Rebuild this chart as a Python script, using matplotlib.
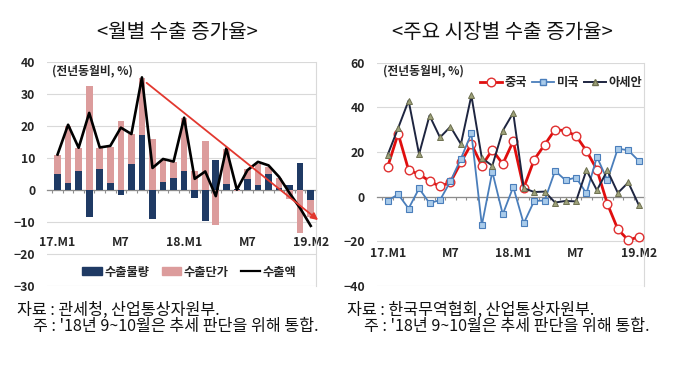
import numpy as np
import matplotlib
matplotlib.use('Agg')
import matplotlib.pyplot as plt
from matplotlib.patches import Patch
from matplotlib.lines import Line2D

plt.rcParams['font.family'] = ['Noto Sans CJK KR', 'DejaVu Sans']

# ---------------- data ----------------
periods = list(range(25))
xtick_pos = [0, 6, 12, 18, 24]
xtick_labels = ['17.M1', 'M7', '18.M1', 'M7', '19.M2']

volume = [5.0, 2.1, 5.7, -8.6, 6.5, 2.1, -1.7, 7.9, 17.1, -9.0, 2.3, 3.8, 5.9,
          -2.5, -9.8, 9.3, 1.7, 0.3, 3.2, 1.5, 4.9, 0.5, 1.6, 8.4, -3.2]
price = [5.9, 17.9, 7.4, 32.3, 6.6, 11.3, 21.5, 9.4, 17.9, 15.8, 7.0, 4.9, 16.6,
         5.8, 15.1, -11.0, 11.1, -0.3, 3.2, 6.6, 2.3, 3.3, -3.0, -13.4, -5.2]
amount = [11.0, 20.3, 13.1, 24.0, 13.2, 13.7, 19.4, 17.4, 35.1, 6.8, 9.6, 8.8, 22.5,
          3.4, 5.7, -2.0, 12.9, 0.0, 6.1, 8.7, 7.6, 4.0, -1.1, -5.8, -11.3]
trend_start = [8.44, 33.4]
trend_end = [24.7, -9.5]

china = [13.3, 28.2, 11.8, 10.0, 6.9, 4.5, 6.4, 15.3, 23.6, 13.8, 20.9, 14.6, 24.8,
         3.8, 16.5, 23.2, 30.0, 29.5, 27.2, 20.5, 12.0, -3.3, -14.7, -19.6, -18.1]
us = [-1.9, 1.0, -5.4, 3.6, -3.0, -1.6, 6.8, 17.0, 28.3, -12.9, 11.1, -8.0, 4.3,
      -12.1, -2.0, -1.8, 11.5, 7.3, 8.5, 1.4, 17.8, 7.3, 21.5, 20.7, 16.0]
asean = [18.7, 30.7, 43.0, 19.0, 36.3, 26.5, 31.3, 23.5, 45.3, 17.2, 13.8, 29.5, 37.5,
         3.8, 2.0, 2.2, -2.7, -2.0, -2.2, 11.8, 2.8, 11.7, 1.6, 6.3, -3.8]

left_title = '<월별 수출 증가율>'
right_title = '<주요 시장별 수출 증가율>'
unit_label = '(전년동월비, %)'
left_legend = ['수출물량', '수출단가', '수출액']
right_legend = ['중국', '미국', '아세안']
left_notes = ['자료 : 관세청, 산업통상자원부.', "주 : '18년 9~10월은 추세 판단을 위해 통합."]
right_notes = ['자료 : 한국무역협회, 산업통상자원부.', "주 : '18년 9~10월은 추세 판단을 위해 통합."]

# ---------------- styling ----------------
NAVY = '#1F3A64'
PINK = '#DC9C9C'
GRID = '#D9D9D9'
ZERO = '#8C8C8C'
TXT = '#262626'

W, H = 680, 371
fig = plt.figure(figsize=(W / 100, H / 100), dpi=100)


def px_axes(x0, x1, ytop, ybot):
    return fig.add_axes([x0 / W, 1 - ybot / H, (x1 - x0) / W, (ybot - ytop) / H])


def style_axes(ax, yticks, label_pad_pt):
    ax.set_yticks(yticks)
    ax.set_ylim(yticks[0], yticks[-1])
    ax.yaxis.grid(True, color=GRID, lw=0.8)
    ax.set_axisbelow(True)
    for s in ['top', 'left']:
        ax.spines[s].set_visible(False)
    ax.spines['right'].set_color(GRID)
    ax.spines['right'].set_linewidth(0.8)
    ax.spines['bottom'].set_position(('data', 0))
    ax.spines['bottom'].set_color(ZERO)
    ax.spines['bottom'].set_linewidth(0.9)
    ax.spines['bottom'].set_zorder(1.5)
    ax.set_xticks(xtick_pos)
    ax.set_xticklabels(xtick_labels)
    ax.set_xticks(np.arange(-0.5, 25, 1), minor=True)
    ax.tick_params(axis='x', which='major', length=0, pad=label_pad_pt,
                   labelsize=8.8, labelcolor=TXT)
    ax.tick_params(axis='x', which='minor', length=2.5, width=0.8, color=ZERO,
                   direction='out')
    ax.tick_params(axis='y', length=0, pad=8.5, labelsize=8.8, labelcolor=TXT)
    for lab in ax.get_xticklabels() + ax.get_yticklabels():
        lab.set_fontweight('bold')


# ---------------- left chart ----------------
axL = px_axes(47, 316, 61.7, 285.7)
x = np.array(periods)
vol = np.array(volume)
pr = np.array(price)
bottom_pr = np.where(pr >= 0, np.maximum(vol, 0), np.minimum(vol, 0))
axL.bar(x, vol, width=0.63, color=NAVY, zorder=2)
axL.bar(x, pr, width=0.63, bottom=bottom_pr, color=PINK, zorder=2)
axL.plot(x, amount, color='black', lw=1.9, zorder=3)
axL.set_xlim(-1.0, 24.5)
style_axes(axL, [-30, -20, -10, 0, 10, 20, 30, 40], 33.5)
axL.annotate('', xy=trend_end, xytext=trend_start,
             arrowprops=dict(arrowstyle='-|>', color='#E2382F', lw=1.3,
                             mutation_scale=10, shrinkA=0, shrinkB=0),
             annotation_clip=False, zorder=4)
axL.text(0.017, 0.958, unit_label, transform=axL.transAxes, ha='left', va='center',
         fontsize=8.5, fontweight='bold', color=TXT)
handlesL = [Patch(color=NAVY), Patch(color=PINK), Line2D([], [], color='black', lw=1.6)]
legL = axL.legend(handlesL, left_legend, loc='center', bbox_to_anchor=(0.53, 0.061),
                  ncol=3, frameon=False, handlelength=1.6,
                  handleheight=0.6, handletextpad=0.2, columnspacing=1.0,
                  prop={'weight': 'bold', 'size': 8.8})
for t in legL.get_texts():
    t.set_color(TXT)

# ---------------- right chart ----------------
axR = px_axes(376.7, 644, 62.7, 285.7)
axR.plot(x, china, color='#E00E0E', lw=2.0, marker='o', ms=6.2, mfc='white',
         mec='#E03030', mew=1.0, zorder=3)
axR.plot(x, us, color='#4A7EBB', lw=1.3, marker='s', ms=3.8, mfc='#A9CBEA',
         mec='#4A7EBB', mew=0.8, zorder=4)
axR.plot(x, asean, color='#1E2540', lw=1.4, marker='^', ms=5.0, mfc='#9EA27A',
         mec='#6E7050', mew=0.7, zorder=5)
axR.set_xlim(-1.05, 24.45)
style_axes(axR, [-40, -20, 0, 20, 40, 60], 36.5)
axR.text(0.024, 0.964, unit_label, transform=axR.transAxes, ha='left', va='center',
         fontsize=8.5, fontweight='bold', color=TXT)
handlesR = [Line2D([], [], color='#E00E0E', lw=2.0, marker='o', ms=6.2, mfc='white', mec='#E03030'),
            Line2D([], [], color='#4A7EBB', lw=1.3, marker='s', ms=3.8, mfc='#A9CBEA', mec='#4A7EBB'),
            Line2D([], [], color='#1E2540', lw=1.4, marker='^', ms=5.0, mfc='#9EA27A', mec='#6E7050')]
legR = axR.legend(handlesR, right_legend, loc='center', bbox_to_anchor=(0.69, 0.91),
                  ncol=3, frameon=False, handlelength=1.8, handletextpad=0.2,
                  columnspacing=0.4, prop={'weight': 'bold', 'size': 8.8})
for t in legR.get_texts():
    t.set_color(TXT)

# ---------------- titles & notes ----------------
fig.text(177 / W, 1 - 32 / H, left_title, ha='center', va='center', fontsize=14.5, color='#111111')
fig.text(502 / W, 1 - 32 / H, right_title, ha='center', va='center', fontsize=14.5, color='#111111')

fig.text(16.7 / W, 1 - 310 / H, left_notes[0], ha='left', va='center', fontsize=11.6, color='#111111')
fig.text(33 / W, 1 - 327 / H, left_notes[1], ha='left', va='center', fontsize=11.6, color='#111111')
fig.text(346.7 / W, 1 - 310 / H, right_notes[0], ha='left', va='center', fontsize=11.6, color='#111111')
fig.text(364 / W, 1 - 327 / H, right_notes[1], ha='left', va='center', fontsize=11.6, color='#111111')

fig.savefig('out.png', dpi=100)
